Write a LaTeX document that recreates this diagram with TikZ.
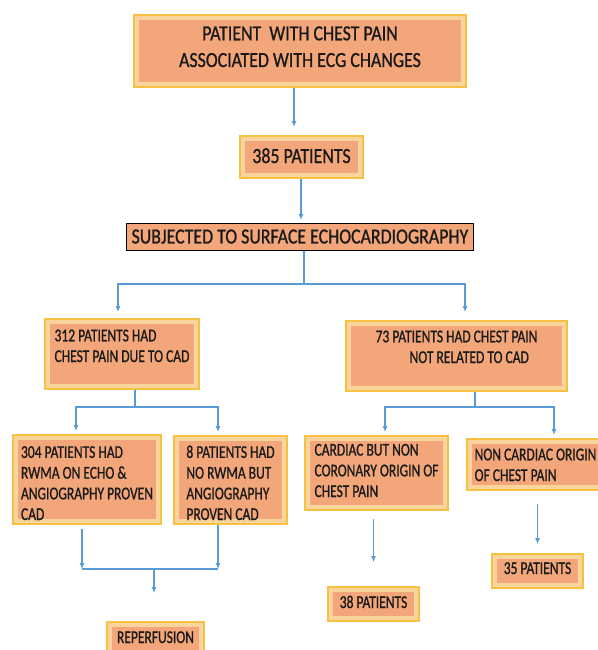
\documentclass[tikz,border=0pt]{standalone}
\usepackage{fontspec}
\setmainfont{Carlito}[FakeStretch=0.83, FakeBold=0.8]
\newfontfamily\narrowfont{Carlito}[FakeStretch=0.75, FakeBold=0.8]
\usepackage{tikz}
\usetikzlibrary{arrows.meta}
\usepackage{xcolor}
\definecolor{boxgold}{HTML}{F6C141}
\definecolor{boxband}{HTML}{F9D49C}
\definecolor{boxfill}{HTML}{F2A679}
\definecolor{flowblue}{HTML}{5B9BD5}
\newcommand{\bigtxt}{\fontsize{21.5}{26.7}\selectfont}
\newcommand{\smalltxt}{\narrowfont\fontsize{18}{20.7}\selectfont}
\tikzset{
  stage/.style={
    rectangle, draw=boxgold, line width=2pt, fill=boxband,
    inner xsep=4pt, inner ysep=0pt, anchor=north west,
    align=left, font=\smalltxt, text=black!90,
    path picture={\fill[boxfill]
      ([shift={(5pt,-5pt)}]path picture bounding box.north west) rectangle
      ([shift={(-5pt,5pt)}]path picture bounding box.south east);}
  },
  plainstage/.style={
    rectangle, draw=black, line width=0.9pt, fill=boxfill,
    inner xsep=4pt, inner ysep=0pt, anchor=north west,
    font=\bigtxt, text=black!90
  },
  arrow/.style={-{Latex[length=6pt,width=5pt]}, draw=flowblue, line width=1.1pt},
  link/.style={draw=flowblue, line width=1.1pt}
}

\begin{document}
\begin{tikzpicture}[x=1pt, y=-1pt]
\useasboundingbox (0,0) rectangle (597,650);

% Entry boxes
\node[stage, align=center, font=\bigtxt, minimum width=332pt, text height=52pt, text depth=20pt] (chest) at (133,14) {PATIENT\ \ WITH CHEST PAIN\\ASSOCIATED WITH ECG CHANGES};
\node[stage, font=\bigtxt, minimum width=123pt, text height=27pt, text depth=15pt] (total) at (239,135) {385 PATIENTS};
\node[plainstage, minimum width=347pt, text height=20pt, text depth=7pt] (echo) at (126,223) {SUBJECTED TO SURFACE ECHOCARDIOGRAPHY};

% Echo result
\node[stage, minimum width=154pt, text height=43pt, text depth=27pt] (cad) at (44,318) {312 PATIENTS HAD\\CHEST PAIN DUE TO CAD};
\node[stage, minimum width=221pt, text height=42pt, text depth=28pt] (nocad) at (345,320) {73 PATIENTS HAD CHEST PAIN\\\hspace*{34pt}NOT RELATED TO CAD};

% CAD branch
\node[stage, minimum width=148pt, text height=85pt, text depth=4pt] (rwma) at (12,434) {304 PATIENTS HAD\\RWMA ON ECHO \&\\ANGIOGRAPHY PROVEN\\CAD};
\node[stage, minimum width=113pt, text height=84pt, text depth=4pt] (norwma) at (173,435) {8 PATIENTS HAD\\NO RWMA BUT\\ANGIOGRAPHY\\PROVEN CAD};
\node[stage, minimum width=97pt, text height=21pt, text depth=14pt] (reperf) at (106,621) {REPERFUSION};

% Non CAD branch
\node[stage, minimum width=143pt, text height=61pt, text depth=13pt] (cardiac) at (304,435) {CARDIAC BUT NON\\CORONARY ORIGIN OF\\CHEST PAIN};
\node[stage, minimum width=137pt, text height=42pt, text depth=9pt] (noncardiac) at (466,438) {NON CARDIAC ORIGIN\\OF CHEST PAIN};
\node[stage, minimum width=91pt, text height=21pt, text depth=13pt] (p38) at (327,586) {38 PATIENTS};
\node[stage, minimum width=91pt, text height=20pt, text depth=14pt] (p35) at (491,553) {35 PATIENTS};

% Join points
\coordinate (a1) at (294,127);
\coordinate (a2) at (301,220);
\coordinate (s1) at (304,284);
\coordinate (s1l) at (118,284);
\coordinate (s1r) at (465,284);
\coordinate (s2) at (135,407);
\coordinate (s2l) at (76,407);
\coordinate (s2r) at (218,407);
\coordinate (s3) at (475,407);
\coordinate (s3l) at (385,407);
\coordinate (s3r) at (554,407);
\coordinate (j1) at (82,569);
\coordinate (j2) at (218,569);
\coordinate (j3) at (154,569);

% Flow arrows
\draw[arrow] (chest.south -| a1) -- (a1);
\draw[arrow] (total.south -| a2) -- (a2);
\draw[link] (echo.south -| s1) -- (s1);
\draw[arrow, shorten >=6pt] (s1) -| (cad.north -| s1l);
\draw[arrow, shorten >=8pt] (s1) -| (nocad.north -| s1r);

\draw[link] (cad.south -| s2) -- (s2);
\draw[arrow, shorten >=3pt] (s2) -| (rwma.north -| s2l);
\draw[arrow, shorten >=3pt] (s2) -| (norwma.north -| s2r);

\draw[link] (nocad.south -| s3) -- (s3);
\draw[arrow, shorten >=3pt] (s3) -| (cardiac.north -| s3l);
\draw[arrow, shorten >=3pt] (s3) -| (noncardiac.north -| s3r);

\draw[arrow, shorten <=4pt] (rwma.south -| j1) -- (j1);
\draw[arrow] (norwma.south -| j2) -- (j2);
\draw[link] (j1) -- (j2);
\draw[arrow, shorten >=28pt] (j3) -- (reperf.north -| j3);

\draw[arrow, shorten <=8pt, shorten >=24pt] (cardiac.south -| p38.north) -- (p38.north);
\draw[arrow, shorten <=13pt, shorten >=9pt] (noncardiac.south -| p35.north) -- (p35.north);

\end{tikzpicture}
\end{document}
